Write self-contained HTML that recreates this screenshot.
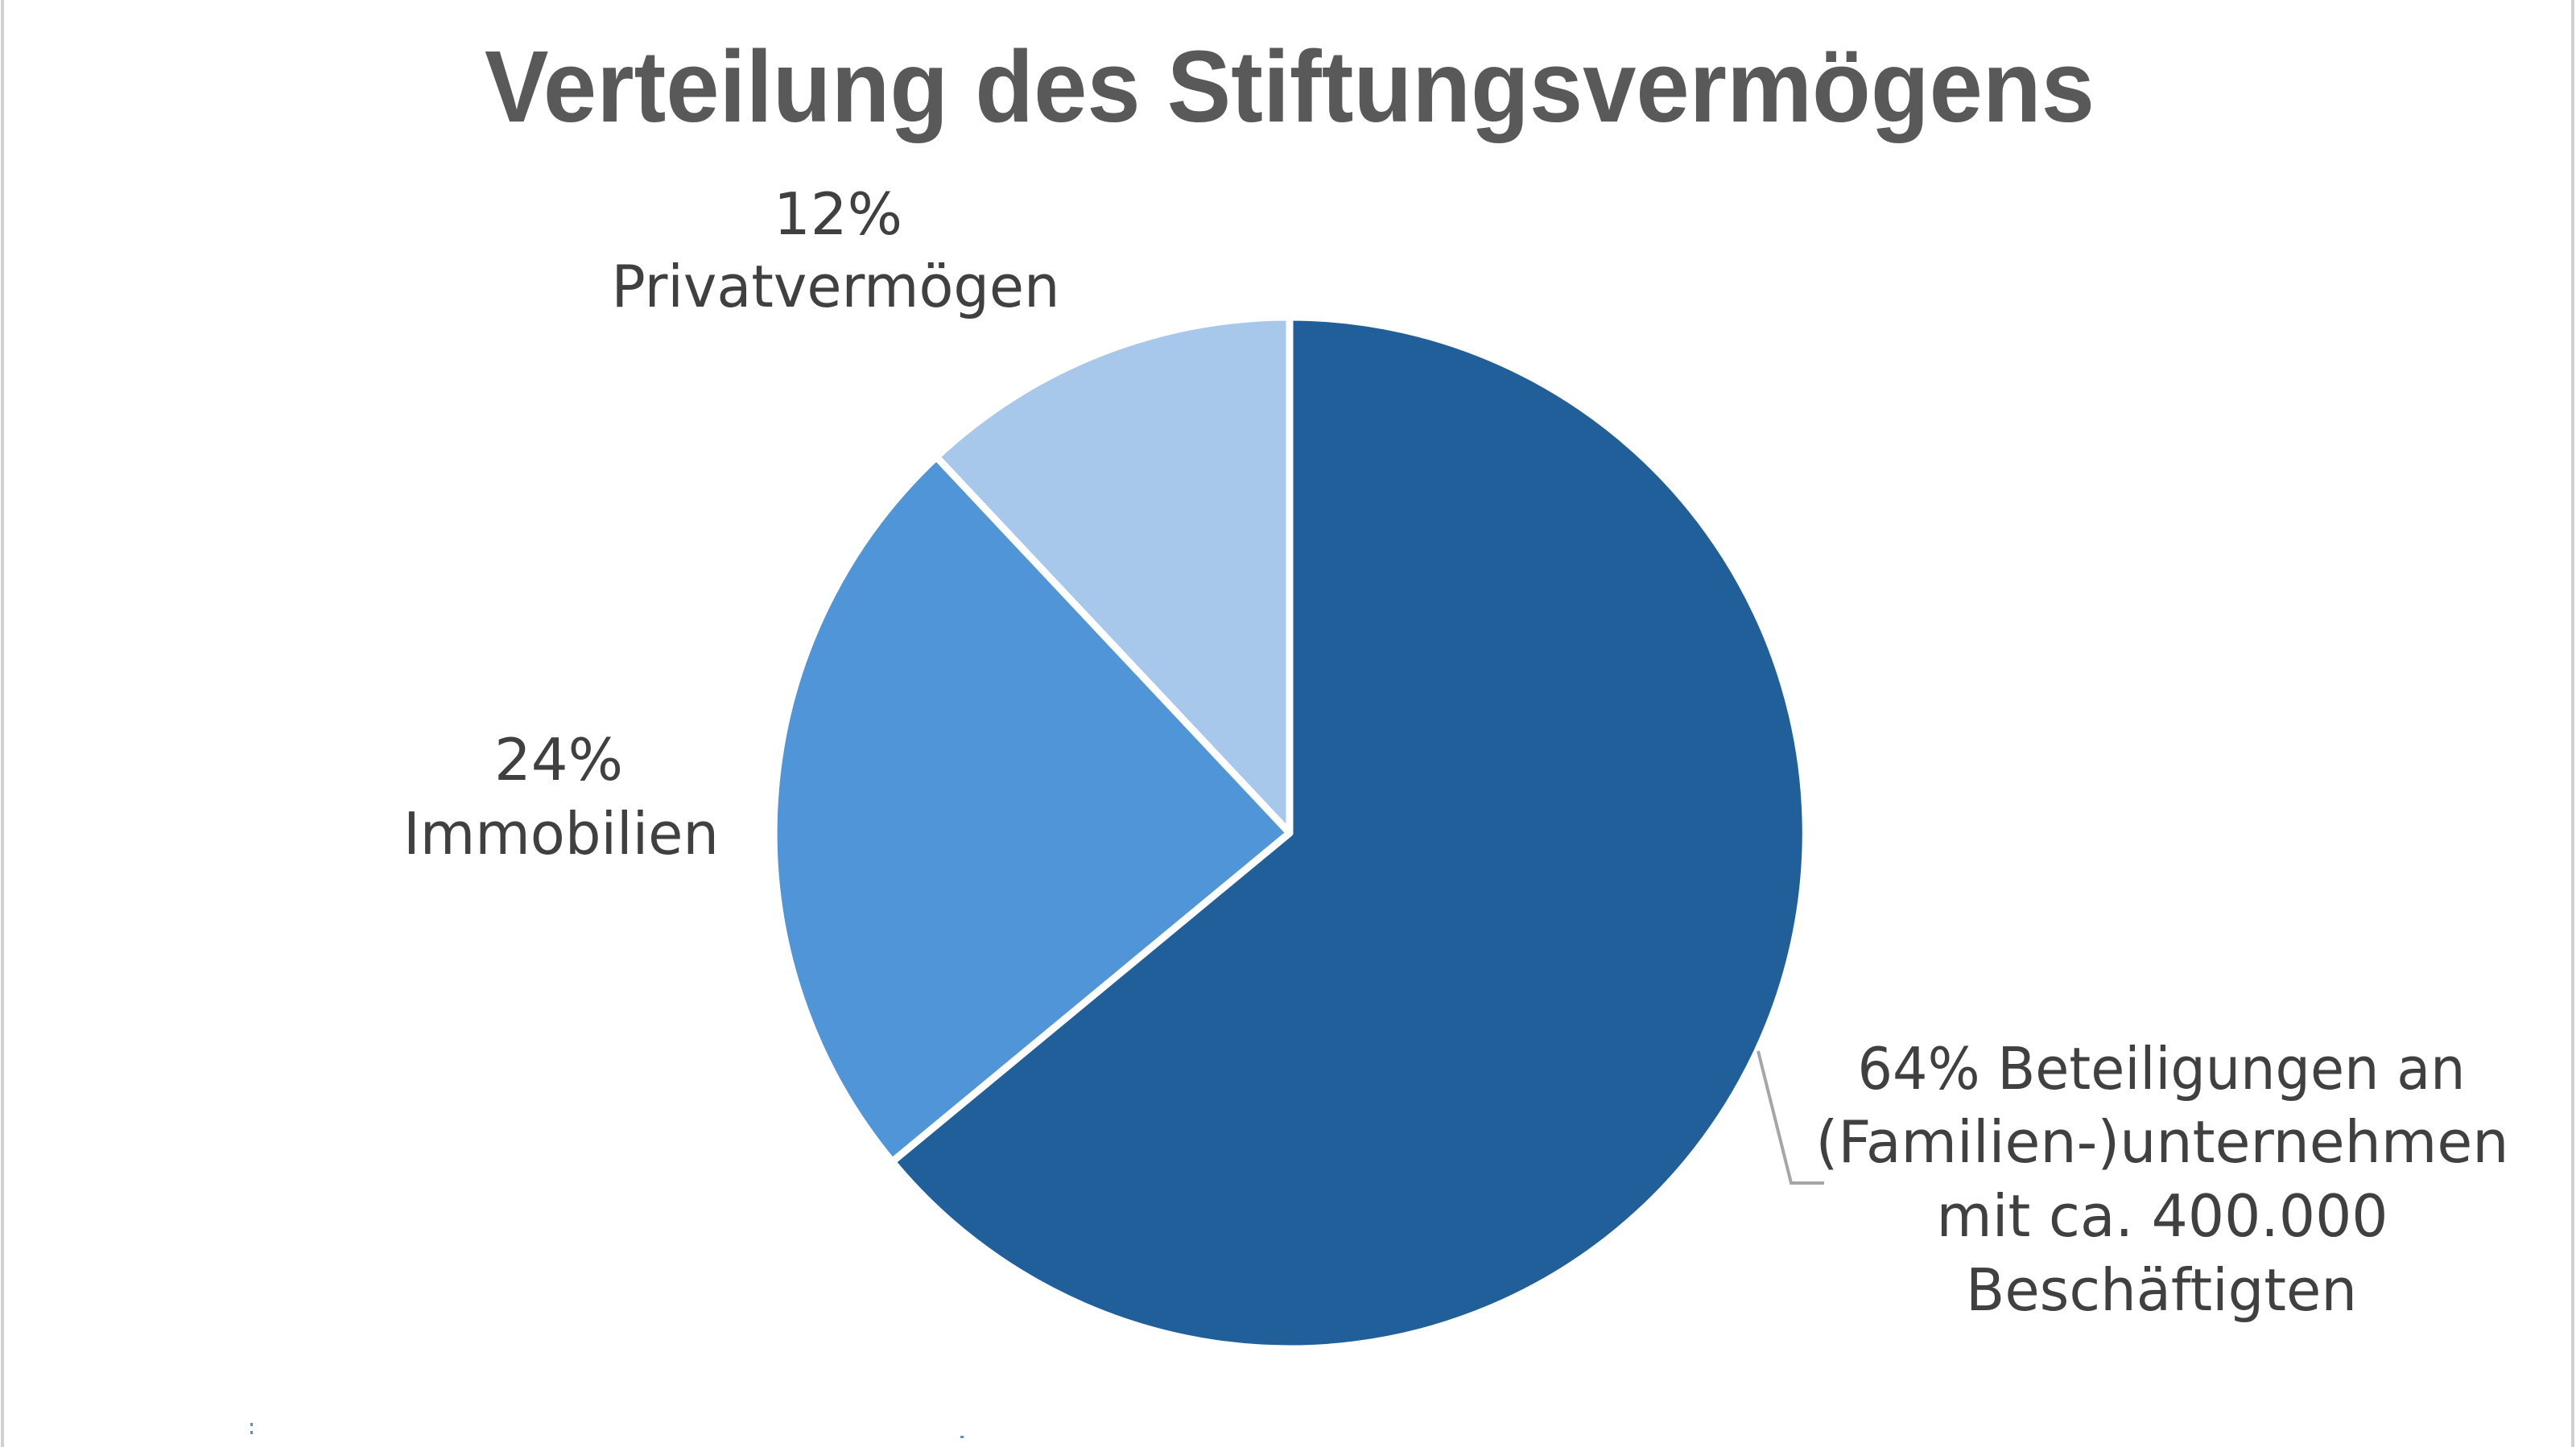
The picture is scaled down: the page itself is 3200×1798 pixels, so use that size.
<!DOCTYPE html>
<html><head><meta charset="utf-8"><style>html,body{margin:0;padding:0;background:#fff;width:3200px;height:1798px;overflow:hidden}</style></head>
<body>
<svg width="3200" height="1798" viewBox="0 0 3200 1798" xmlns="http://www.w3.org/2000/svg">
<rect x="0" y="0" width="3200" height="1798" fill="#fff"/>
<line x1="3" y1="0" x2="3" y2="1798" stroke="#d0d0d0" stroke-width="4"/>
<line x1="3196" y1="0" x2="3196" y2="1798" stroke="#d0d0d0" stroke-width="4"/>
<text x="602" y="151" font-family="Liberation Sans, sans-serif" font-weight="bold" font-size="126" fill="#595959" textLength="2000" lengthAdjust="spacingAndGlyphs">Verteilung des Stiftungsvermögens</text>
<g stroke="#fff" stroke-width="9" stroke-linejoin="round">
<path d="M1602 1035 L1602 394 A641 641 0 1 1 1108.3 1443.5 Z" fill="#215F9A"/>
<path d="M1602 1035 L1108.3 1443.5 A641 641 0 0 1 1163.2 567.7 Z" fill="#4F95D8"/>
<path d="M1602 1035 L1163.2 567.7 A641 641 0 0 1 1602 394 Z" fill="#A7C8EB"/>
</g>
<polyline points="2184,1306 2225,1470 2266,1470" fill="none" stroke="#a6a6a6" stroke-width="4"/>
<g font-family="DejaVu Sans, Liberation Sans, sans-serif" font-size="72" fill="#404040" text-anchor="middle">
<text x="1041" y="291">12%</text>
<text x="1038" y="381" textLength="557" lengthAdjust="spacingAndGlyphs">Privatvermögen</text>
<text x="694" y="969">24%</text>
<text x="697" y="1061" textLength="392" lengthAdjust="spacingAndGlyphs">Immobilien</text>
<text x="2685" y="1353" textLength="755" lengthAdjust="spacingAndGlyphs">64% Beteiligungen an</text>
<text x="2686" y="1444" textLength="861" lengthAdjust="spacingAndGlyphs">(Familien-)unternehmen</text>
<text x="2686" y="1536" textLength="561" lengthAdjust="spacingAndGlyphs">mit ca. 400.000</text>
<text x="2685" y="1628" textLength="486" lengthAdjust="spacingAndGlyphs">Beschäftigten</text>
</g>
<rect x="311" y="1768" width="3" height="4" fill="#4F95D8"/>
<rect x="311" y="1778" width="3" height="4" fill="#4F95D8"/>
<rect x="1193" y="1784" width="4" height="3" fill="#4F95D8"/>
</svg>
</body></html>
